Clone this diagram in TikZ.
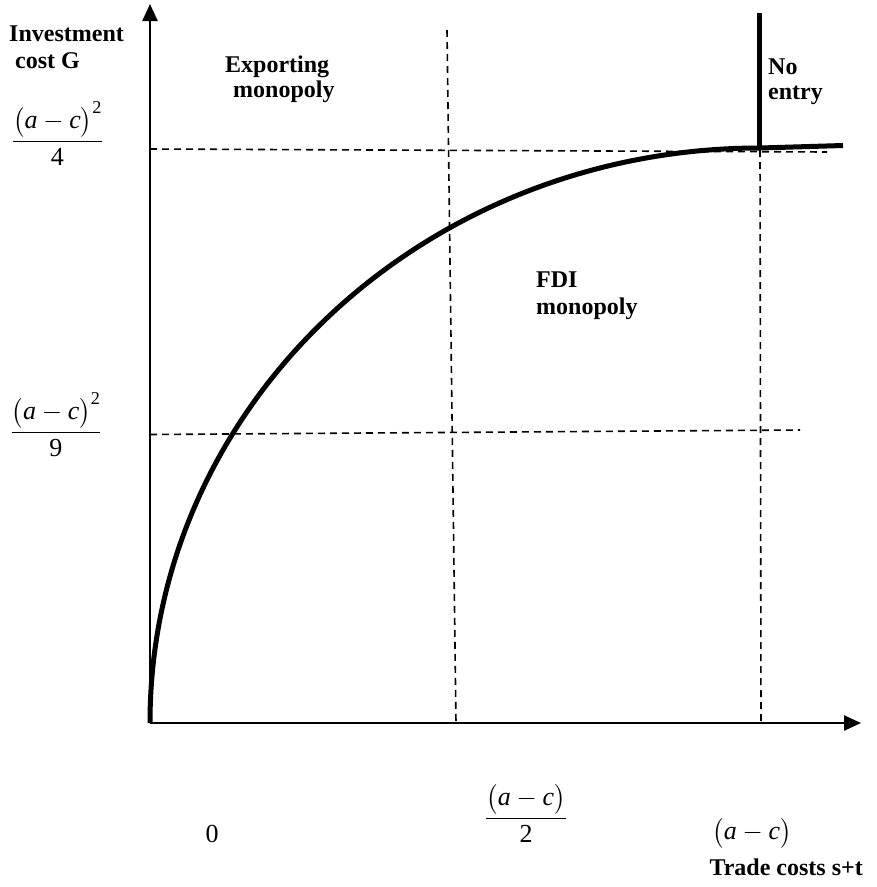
\RequirePackage{fix-cm}
\documentclass[tikz,border=0pt]{standalone}
\usepackage{amsmath}
\usepackage{fontspec}
\setmainfont{Liberation Serif}
\usetikzlibrary{arrows.meta}
\newcommand{\amc}{\bigl(\textit{a}-\textit{c}\bigr)}
\tikzset{
  axisline/.style={line width=2.4pt, -{Triangle[length=17pt,width=15pt]}},
  guide/.style={line width=1.6pt, dash pattern=on 7pt off 5pt},
  thickcurve/.style={line width=5pt},
  lbl/.style={inner sep=0pt, anchor=base west, font=\fontsize{24}{28}\selectfont\bfseries},
  mathlbl/.style={inner sep=0pt, anchor=base, font=\fontsize{26}{30}\selectfont},
}
\begin{document}
\begin{tikzpicture}[x=1pt, y=-1pt]
\useasboundingbox (0,0) rectangle (877,887);
% coordinates
\coordinate (O) at (150,723);
\coordinate (ytop) at (150,4);
\coordinate (xend) at (861,723);
\coordinate (peak) at (760,148);
\coordinate (tail) at (843,145.5);
\coordinate (h1a) at (150,149);
\coordinate (h1b) at (827,152);
\coordinate (h2a) at (150,434.5);
\coordinate (h2b) at (800,430);
\coordinate (v1a) at (447,30);
\coordinate (v1b) at (456,723);
\coordinate (v2a) at (760,150);
\coordinate (v2b) at (761,723);
\coordinate (nea) at (759,13);
\coordinate (neb) at (759,149);
% dashed guides
\draw[guide] (h1a) -- (h1b);
\draw[guide] (h2a) -- (h2b);
\draw[guide] (v1a) -- (v1b);
\draw[guide] (v2a) -- (v2b);
% curve: quarter ellipse from origin to the peak, then nearly flat
\draw[thickcurve, line join=round] (O) arc[start angle=180, end angle=90, x radius=610pt, y radius=575pt] -- (tail);
% no entry boundary
\draw[line width=5pt] (nea) -- (neb);
% axes
\draw[axisline] (O) -- (ytop);
\draw[axisline] (O) -- (xend);
% labels
\node[lbl] (inv) at (9,41) {Investment};
\node[lbl] (cg) at (15,68) {cost G};
\node[lbl] (exp1) at (225,72) {Exporting};
\node[lbl] (exp2) at (233,97) {monopoly};
\node[lbl] (ne1) at (768,74) {No};
\node[lbl] (ne2) at (768,99) {entry};
\node[lbl] (fdi1) at (536,287) {FDI};
\node[lbl] (fdi2) at (536,314) {monopoly};
\node[lbl, anchor=base east] (tc) at (863,875) {Trade costs s+t};
% y-axis fractions
\node[mathlbl] (f4) at (57.5,147.5) {$\dfrac{\amc^{\mathrm{2}}}{\mathrm{4}}$};
\node[mathlbl] (f9) at (56,438.5) {$\dfrac{\amc^{\mathrm{2}}}{\mathrm{9}}$};
% x-axis labels
\node[mathlbl] (zero) at (212,842) {0};
\node[mathlbl] (f2) at (526,824.5) {$\dfrac{\amc}{\mathrm{2}}$};
\node[mathlbl] (ac) at (752,839.5) {$\amc$};
\end{tikzpicture}
\end{document}
